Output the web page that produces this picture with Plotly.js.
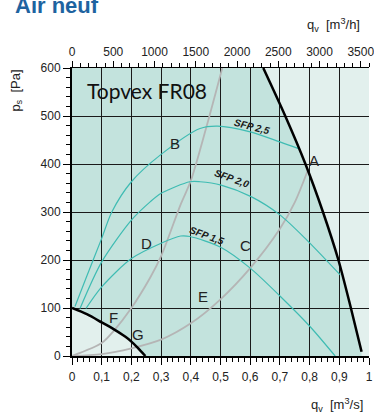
<!DOCTYPE html>
<html><head><meta charset="utf-8">
<script src="https://cdn.plot.ly/plotly-3.0.1.min.js"></script>
<style>html,body{margin:0;padding:0;background:#fff;}#chart{width:374px;height:419px;}</style>
</head><body><div id="chart"></div>
<script>
// ---- tick labels ----
const xTickVals = [0,0.1,0.2,0.3,0.4,0.5,0.6,0.7,0.8,0.9,1];
const xTickText = ["0","0,1","0,2","0,3","0,4","0,5","0,6","0,7","0,8","0,9","1"];
const topTickVals = [0,500,1000,1500,2000,2500,3000,3500];
const topTickText = ["0","500","1000","1500","2000","2500","3000","3500"];
const yTickVals = [0,100,200,300,400,500,600];
const yTickText = ["0","100","200","300","400","500","600"];

// ---- fan limit curves (qv m3/s, ps Pa) ----
const maxCurveX = [0.644,0.718,0.786,0.845,0.897,0.939,0.975];
const maxCurveY = [600,500,400,300,200,100,9];
const minCurveX = [0,0.05,0.1,0.14,0.18,0.2,0.22,0.247];
const minCurveY = [100,87,70,56,40,30,18,0];

// ---- SFP curves ----
const sfp25X = [0.01,0.049,0.1,0.134,0.2,0.3,0.431,0.49,0.6,0.7,0.763];
const sfp25Y = [103,165,245,300,363,420,474,479,467,446,432];
const sfp20X = [0.027,0.1,0.2,0.263,0.3,0.397,0.431,0.502,0.603,0.7,0.79,0.903];
const sfp20Y = [99,196,283,321,339,363,363,356,332,294,242,169];
const sfp15X = [0.047,0.1,0.2,0.3,0.366,0.397,0.502,0.6,0.7,0.802,0.886];
const sfp15Y = [99,144,203,235,250,249,226,183,125,61,0];

// ---- system curves ----
const sysSteepX = [0,0.1,0.14,0.2,0.263,0.3,0.366,0.4,0.453,0.506];
const sysSteepY = [0,27,52,100,163,208,316,365,478,600];
const sysLowX = [0,0.1,0.2,0.3,0.4,0.5,0.6,0.7,0.75,0.794];
const sysLowY = [0,4,16,34,68,118,183,265,320,387];

// operating-region path built from the limit curves
let path = "M " + minCurveX[0] + "," + minCurveY[0];
for (let i = 1; i < minCurveX.length; i++) path += " L " + minCurveX[i] + "," + minCurveY[i];
path += " L " + maxCurveX[maxCurveX.length-1] + ",0";
for (let i = maxCurveX.length-1; i >= 0; i--) path += " L " + maxCurveX[i] + "," + maxCurveY[i];
path += " L 0," + maxCurveY[0] + " Z";

const teal = '#3fbcb3', gray = '#b5b5b5';
const line = (x, y, color, width) => ({x, y, type:'scatter', mode:'lines', line:{color, width, shape:'spline', smoothing:0.8}, hoverinfo:'skip'});

const traces = [
  line(sysSteepX, sysSteepY, gray, 1.8),
  line(sysLowX, sysLowY, gray, 1.8),
  line(sfp25X, sfp25Y, teal, 1.2),
  line(sfp20X, sfp20Y, teal, 1.2),
  line(sfp15X, sfp15Y, teal, 1.2),
  line(maxCurveX, maxCurveY, '#000', 2.5),
  line(minCurveX, minCurveY, '#000', 2.5),
  {x:[0,3600], y:[-10,-10], xaxis:'x2', yaxis:'y', type:'scatter', mode:'lines', line:{width:0}, hoverinfo:'skip', showlegend:false}
];

const F = 'Liberation Sans, Arial, sans-serif';
const letter = (t, x, y) => ({text:t, x, y, xref:'x', yref:'y', showarrow:false, font:{family:F, size:15, color:'#222'}});
const sfpLab = (t, x, y, a) => ({text:'<b><i>'+t+'</i></b>', x, y, xref:'x', yref:'y', showarrow:false, textangle:a, font:{family:F, size:10, color:'#1a1a1a'}});

const layout = {
  width:374, height:419,
  margin:{l:72, r:5, t:68, b:63, pad:0},
  paper_bgcolor:'#ffffff', plot_bgcolor:'#e2f0ed',
  showlegend:false,
  font:{family:F, size:12, color:'#222'},
  xaxis:{range:[0,1], tickvals:xTickVals, ticktext:xTickText, ticks:'outside', ticklen:7, tickcolor:'#000', tickwidth:1,
    showline:true, linecolor:'#000', linewidth:1.5, showgrid:true, gridcolor:'#1a1a1a', gridwidth:1, zeroline:false,
    ticklabeloverflow:'allow', ticklabelstandoff:2,
    minor:{ticks:'outside', ticklen:4, dtick:0.02, tickcolor:'#000', showgrid:false}, tickfont:{size:12, color:'#222'}, fixedrange:true},
  xaxis2:{overlaying:'x', side:'top', anchor:'y', range:[0,3600], tickvals:topTickVals, ticktext:topTickText, ticks:'outside', ticklen:6, tickcolor:'#000',
    showline:true, linecolor:'#000', linewidth:1.5, showgrid:false, zeroline:false, ticklabeloverflow:'allow',
    minor:{ticks:'outside', ticklen:3.5, dtick:100, tickcolor:'#000', showgrid:false}, tickfont:{size:12, color:'#222'}},
  yaxis:{range:[0,600], tickvals:yTickVals, ticktext:yTickText, ticks:'outside', ticklen:7, tickcolor:'#000',
    showline:true, linecolor:'#000', linewidth:2, showgrid:true, gridcolor:'#1a1a1a', gridwidth:1, zeroline:false,
    minor:{ticks:'outside', ticklen:4, dtick:20, tickcolor:'#000', showgrid:false}, tickfont:{size:12, color:'#222'}},
  shapes:[{type:'path', path:path, xref:'x', yref:'y', fillcolor:'#c3e3dd', line:{width:0}, layer:'below'}],
  annotations:[
    {text:'<b>Air neuf</b>', xref:'paper', yref:'paper', x:-0.1987, y:1.2153, xanchor:'left', yanchor:'middle', showarrow:false, font:{family:F, size:22, color:'#1e63a0'}},
    {text:'Topvex FR08', xref:'paper', yref:'paper', x:0.045, y:0.9236, xanchor:'left', yanchor:'middle', showarrow:false, font:{family:'Lato, sans-serif', size:21, color:'#111'}},
    {text:'q<sub>v</sub>  [m<sup>3</sup>/h]', xref:'paper', yref:'paper', x:0.88, y:1.15, xanchor:'center', yanchor:'middle', showarrow:false, font:{family:F, size:13, color:'#222'}},
    {text:'q<sub>v</sub>  [m<sup>3</sup>/s]', xref:'paper', yref:'paper', x:0.892, y:-0.17, xanchor:'center', yanchor:'middle', showarrow:false, font:{family:F, size:13, color:'#222'}},
    {text:'p<sub>s</sub>  [Pa]', xref:'paper', yref:'paper', x:-0.19, y:0.92, xanchor:'center', yanchor:'middle', textangle:-90, showarrow:false, font:{family:F, size:13, color:'#222'}},
    letter('A',0.816,408), letter('B',0.347,442), letter('C',0.585,231), letter('D',0.251,235),
    letter('E',0.442,124), letter('F',0.141,81), letter('G',0.223,44),
    sfpLab('SFP 2,5',0.605,479,14), sfpLab('SFP 2,0',0.538,370,20), sfpLab('SFP 1,5',0.453,252,20)
  ]
};

Plotly.newPlot('chart', traces, layout, {staticPlot:true, displayModeBar:false});
</script>
</body></html>
